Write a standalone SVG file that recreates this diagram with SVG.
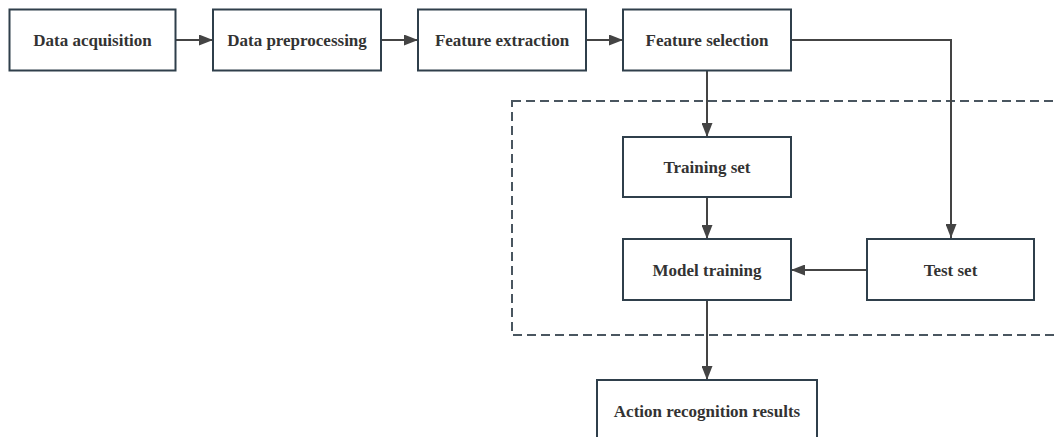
<svg xmlns="http://www.w3.org/2000/svg" width="1058" height="437" viewBox="0 0 1058 437">
<style>
.box{fill:#fff;stroke:#2f3f4b;stroke-width:2}
.lbl{font-family:"Liberation Serif",serif;font-weight:bold;font-size:17px;fill:#333;text-anchor:middle;dominant-baseline:central}
.con{fill:none;stroke:#444;stroke-width:2}
</style>
<defs>
<marker id="ah" viewBox="0 0 14 11" refX="14" refY="5.5" markerWidth="14" markerHeight="11" markerUnits="userSpaceOnUse" orient="auto">
<path d="M0,0 L14,5.5 L0,11 z" fill="#444"/>
</marker>
</defs>
<rect x="0" y="0" width="1058" height="437" fill="#fff"/>
<rect id="group" x="512" y="101" width="560" height="234" fill="none" stroke="#4a5660" stroke-width="2" stroke-dasharray="9,5"/>
<g id="connectors">
<path class="con" d="M176,40 H213" marker-end="url(#ah)"/>
<path class="con" d="M381,40 H418" marker-end="url(#ah)"/>
<path class="con" d="M586,40 H623" marker-end="url(#ah)"/>
<path class="con" d="M791,40 H951 V238" marker-end="url(#ah)" stroke-width="1.6"/>
<path class="con" d="M707,70 V137" marker-end="url(#ah)"/>
<path class="con" d="M707,197 V239" marker-end="url(#ah)"/>
<path class="con" d="M867,270 H791" marker-end="url(#ah)"/>
<path class="con" d="M707,300 V380" marker-end="url(#ah)"/>
</g>
<g id="n1"><rect class="box" x="9.5" y="9.5" width="166" height="61"/><text class="lbl" x="92.5" y="40">Data acquisition</text></g>
<g id="n2"><rect class="box" x="213" y="9.5" width="168" height="61"/><text class="lbl" x="297" y="40">Data preprocessing</text></g>
<g id="n3"><rect class="box" x="418" y="9.5" width="168" height="61"/><text class="lbl" x="502" y="40">Feature extraction</text></g>
<g id="n4"><rect class="box" x="623" y="9.5" width="168" height="61"/><text class="lbl" x="707" y="40">Feature selection</text></g>
<g id="n5"><rect class="box" x="623" y="137" width="168" height="60"/><text class="lbl" x="707" y="167">Training set</text></g>
<g id="n6"><rect class="box" x="623" y="239" width="168" height="61"/><text class="lbl" x="707" y="270">Model training</text></g>
<g id="n7"><rect class="box" x="867" y="239" width="167" height="61"/><text class="lbl" x="950.5" y="270">Test set</text></g>
<g id="n8"><rect class="box" x="597" y="380" width="220" height="70"/><text class="lbl" x="707" y="411">Action recognition results</text></g>
</svg>
